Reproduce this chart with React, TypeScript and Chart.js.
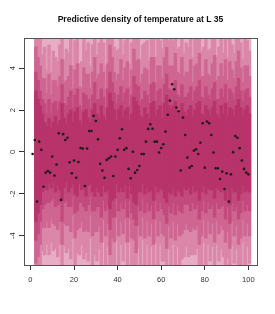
import React, { useEffect, useRef } from 'react';
import { Chart, registerables } from 'chart.js';

Chart.register(...registerables);

const TITLE = 'Predictive density of temperature at L 35';
const X_TICKS = [0, 20, 40, 60, 80, 100];
const Y_TICKS = [-4, -2, 0, 2, 4];
const X_MIN = -2.96;
const X_MAX = 103.96;
const Y_MIN = -5.4;
const Y_MAX = 5.44;

// density bands exist for time steps 2..100
const BAND_FIRST_T = 2;

// upper edges of the nested predictive bands (inner -> outer)
const UP0 = [
  2.9, 2.5, 2.2, 1.8, 1.4, 1.2, 1.6, 1.1, 1.4, 1.7,
  1.3, 1.5, 2.3, 1.6, 1.3, 1.8, 2.0, 1.4, 1.9, 2.1,
  1.5, 1.3, 1.9, 2.0, 1.6, 1.4, 2.0, 2.3, 1.8, 1.6,
  2.2, 1.7, 1.5, 2.1, 2.8, 2.4, 2.0, 1.5, 2.0, 2.2,
  1.6, 2.0, 2.1, 1.5, 1.8, 2.6, 2.4, 2.2, 1.7, 1.6,
  2.1, 1.8, 1.6, 2.3, 2.4, 1.7, 2.0, 2.2, 1.6, 2.3,
  2.7, 2.2, 2.0, 2.2, 2.4, 1.9, 1.8, 2.3, 1.9, 1.7,
  2.0, 2.2, 1.7, 2.0, 2.3, 2.4, 1.8, 1.7, 2.2, 2.0,
  1.7, 2.1, 2.4, 1.8, 1.6, 2.2, 1.8, 2.3, 1.7, 2.1,
  2.0, 1.7, 2.2, 2.5, 2.1, 1.7, 2.0, 2.2, 1.8,
];
const UP1 = [
  3.8, 3.4, 2.9, 2.5, 2.3, 1.8, 2.5, 1.8, 2.3, 2.4,
  2.0, 2.4, 3.2, 2.3, 2.2, 2.6, 2.9, 2.1, 2.7, 3.0,
  2.2, 2.0, 2.8, 2.7, 2.5, 2.1, 2.7, 3.3, 2.5, 2.5,
  3.0, 2.6, 2.1, 3.0, 3.8, 3.3, 2.8, 2.3, 2.7, 3.1,
  2.4, 2.8, 3.0, 2.2, 2.7, 3.6, 3.2, 3.1, 2.4, 2.5,
  2.9, 2.7, 2.3, 3.2, 3.3, 2.4, 2.9, 3.0, 2.4, 3.2,
  3.7, 3.0, 2.9, 3.0, 3.4, 2.7, 2.6, 3.2, 2.6, 2.6,
  2.8, 3.1, 2.4, 2.9, 3.1, 3.4, 2.6, 2.5, 3.1, 2.7,
  2.5, 3.0, 3.3, 2.5, 2.5, 3.0, 2.6, 3.2, 2.4, 3.0,
  2.8, 2.5, 3.1, 3.5, 2.9, 2.4, 2.9, 3.0, 2.6,
];
const UP2 = [
  5.0, 4.5, 4.1, 3.5, 3.5, 2.8, 3.7, 2.7, 3.4, 3.4,
  3.1, 3.6, 4.4, 3.3, 3.4, 3.6, 4.1, 3.0, 3.9, 4.2,
  3.1, 3.0, 4.0, 3.7, 3.7, 3.0, 3.8, 4.5, 3.5, 3.7,
  4.2, 3.8, 3.0, 4.2, 5.1, 4.5, 3.8, 3.4, 3.7, 4.4,
  3.4, 4.0, 4.3, 3.1, 3.9, 4.9, 4.3, 4.4, 3.3, 3.7,
  4.0, 3.9, 3.2, 4.5, 4.5, 3.3, 4.1, 4.1, 3.5, 4.5,
  5.0, 4.1, 4.1, 4.1, 4.7, 3.8, 3.7, 4.5, 3.6, 3.8,
  3.8, 4.4, 3.3, 4.1, 4.2, 4.7, 3.6, 3.6, 4.4, 3.7,
  3.6, 4.2, 4.6, 3.4, 3.6, 4.2, 3.6, 4.4, 3.4, 4.3,
  3.9, 3.5, 4.3, 4.8, 4.0, 3.3, 4.1, 4.1, 3.6,
];
const UP3 = [
  6.3, 5.9, 5.5, 4.6, 5.0, 3.9, 5.1, 3.8, 4.8, 4.5,
  4.3, 5.1, 5.8, 4.4, 4.9, 4.7, 5.5, 4.1, 5.3, 5.5,
  4.2, 4.3, 5.4, 4.8, 5.2, 4.1, 5.1, 5.8, 4.6, 5.2,
  5.5, 5.2, 4.1, 5.6, 6.5, 5.8, 5.0, 4.8, 4.9, 5.8,
  4.6, 5.3, 5.7, 4.2, 5.2, 6.3, 5.5, 5.8, 4.4, 5.1,
  5.2, 5.3, 4.3, 5.9, 5.8, 4.5, 5.5, 5.3, 4.9, 5.8,
  6.4, 5.3, 5.5, 5.3, 6.1, 4.9, 5.0, 5.9, 4.7, 5.2,
  5.0, 5.8, 4.5, 5.5, 5.4, 6.1, 4.8, 5.0, 5.8, 4.8,
  4.9, 5.5, 6.0, 4.5, 5.0, 5.5, 4.7, 5.8, 4.5, 5.6,
  5.1, 4.7, 5.6, 6.2, 5.2, 4.4, 5.4, 5.3, 4.8,
];

// lower edges of the nested predictive bands (inner -> outer)
const LO0 = [
  -3.3, -2.9, -2.5, -1.9, -1.6, -1.8, -1.5, -1.7, -1.4, -1.9,
  -1.6, -1.8, -2.3, -1.7, -1.4, -1.9, -1.7, -1.5, -2.0, -2.1,
  -1.5, -1.8, -1.7, -2.1, -1.6, -1.5, -1.9, -2.1, -1.7, -1.9,
  -2.1, -1.6, -1.9, -1.8, -2.7, -2.3, -2.2, -1.5, -1.9, -1.7,
  -1.9, -1.6, -2.2, -1.6, -2.0, -2.4, -2.5, -1.9, -1.9, -1.5,
  -2.0, -1.7, -1.9, -1.8, -2.3, -1.6, -1.9, -1.7, -1.8, -2.2,
  -2.4, -1.9, -2.0, -1.7, -2.1, -1.8, -1.9, -2.1, -1.7, -1.8,
  -1.7, -2.0, -1.6, -1.9, -1.8, -2.3, -1.9, -1.6, -2.0, -1.7,
  -1.8, -1.8, -2.2, -1.7, -1.8, -1.9, -1.7, -2.3, -1.8, -2.5,
  -1.7, -1.9, -1.9, -2.3, -2.0, -1.6, -1.9, -1.8, -1.9,
];
const LO1 = [
  -4.2, -3.9, -3.3, -2.7, -2.5, -2.4, -2.4, -2.3, -2.2, -2.6,
  -2.5, -2.4, -3.3, -2.4, -2.3, -2.6, -2.6, -2.1, -2.9, -2.8,
  -2.4, -2.4, -2.6, -2.8, -2.5, -2.1, -2.8, -2.8, -2.6, -2.6,
  -3.1, -2.3, -2.8, -2.5, -3.7, -3.1, -3.1, -2.2, -2.8, -2.4,
  -2.7, -2.3, -3.1, -2.3, -2.9, -3.2, -3.5, -2.6, -2.8, -2.2,
  -2.9, -2.4, -2.8, -2.5, -3.2, -2.3, -2.8, -2.4, -2.7, -3.0,
  -3.4, -2.6, -2.9, -2.4, -3.0, -2.5, -2.8, -2.9, -2.5, -2.5,
  -2.5, -2.8, -2.4, -2.7, -2.5, -3.2, -2.8, -2.3, -2.9, -2.4,
  -2.7, -2.5, -3.1, -2.4, -2.7, -2.6, -2.5, -3.2, -2.6, -3.4,
  -2.4, -2.8, -2.6, -3.2, -2.9, -2.3, -2.8, -2.5, -2.8,
];
const LO2 = [
  -5.3, -5.0, -4.4, -3.6, -3.6, -3.3, -3.6, -3.2, -3.4, -3.5,
  -3.7, -3.3, -4.4, -3.4, -3.5, -3.5, -3.8, -3.0, -4.1, -3.7,
  -3.6, -3.3, -3.8, -3.7, -3.8, -3.0, -4.0, -3.8, -3.8, -3.5,
  -4.3, -3.2, -4.0, -3.4, -4.9, -4.1, -4.3, -3.1, -4.0, -3.3,
  -3.9, -3.2, -4.3, -3.2, -4.1, -4.2, -4.8, -3.5, -4.0, -3.1,
  -4.1, -3.3, -4.0, -3.4, -4.4, -3.2, -4.0, -3.3, -3.9, -4.0,
  -4.6, -3.5, -4.1, -3.3, -4.2, -3.4, -4.0, -3.9, -3.7, -3.4,
  -3.7, -3.8, -3.6, -3.7, -3.5, -4.4, -4.0, -3.2, -4.1, -3.3,
  -3.9, -3.4, -4.3, -3.3, -3.9, -3.5, -3.7, -4.3, -3.8, -4.6,
  -3.3, -4.0, -3.5, -4.4, -4.1, -3.2, -4.0, -3.4, -4.0,
];
const LO3 = [
  -6.5, -6.3, -5.6, -4.7, -4.9, -4.4, -4.9, -4.3, -4.7, -4.6,
  -5.0, -4.4, -5.8, -4.5, -4.8, -4.6, -5.1, -4.1, -5.5, -4.8,
  -4.9, -4.4, -5.1, -4.8, -5.2, -4.1, -5.4, -4.9, -5.2, -4.6,
  -5.7, -4.3, -5.4, -4.5, -6.3, -5.3, -5.7, -4.2, -5.4, -4.4,
  -5.2, -4.3, -5.7, -4.3, -5.5, -5.4, -6.2, -4.6, -5.4, -4.2,
  -5.4, -4.4, -5.4, -4.5, -5.8, -4.3, -5.4, -4.4, -5.2, -5.2,
  -6.0, -4.6, -5.5, -4.4, -5.6, -4.5, -5.4, -5.1, -5.0, -4.5,
  -5.0, -4.9, -4.9, -4.9, -4.6, -5.8, -5.4, -4.3, -5.5, -4.4,
  -5.2, -4.5, -5.7, -4.4, -5.2, -4.6, -5.0, -5.6, -5.1, -6.0,
  -4.4, -5.3, -4.6, -5.8, -5.5, -4.3, -5.4, -4.5, -5.3,
];
// outermost band limits (extend beyond the plotted range)
const OUTER_LO = -8;
const OUTER_HI = 8;

// observed temperatures, t = 1..100
const OBS = [
  -0.1, 0.57, -2.37, 0.49, 0.1, -1.66, -0.99, -0.91, -0.99, -0.22,
  -1.13, -0.6, 0.89, -2.29, 0.85, 0.57, 0.68, -0.49, -1.02, -0.41,
  -1.23, -0.48, 0.19, 0.16, -1.63, 0.16, 1.0, 1.0, 1.72, 1.48,
  0.6, -0.57, -0.89, -1.23, -0.38, -0.3, -0.22, -1.15, -0.22, 0.1,
  0.65, 1.08, 0.1, 0.18, -0.81, -1.26, 0.01, -0.99, -0.86, -0.67,
  -0.1, -0.1, 0.49, 1.1, 1.32, 1.11, 0.49, 0.49, -0.03, 0.19,
  0.37, 0.97, 1.77, 2.45, 3.23, 2.99, 2.12, 1.94, -0.89, 1.64,
  0.81, -0.27, -0.75, -0.67, 0.06, 0.13, -0.1, 0.44, 1.37, -0.75,
  1.45, 1.37, 0.81, -0.03, -0.78, -0.78, -1.29, -0.94, -1.77, -1.02,
  -2.37, -1.07, -0.01, 0.76, 0.68, 0.18, -0.41, -0.81, -0.99, -1.07,
];

const BAND_COLORS = ['#b7336a', '#c24a7d', '#ce6691', '#da87a9', '#e7adc5'];
const FONT = "'Liberation Sans', Arial, Helvetica, sans-serif";

export default function App() {
  const ref = useRef<HTMLCanvasElement>(null);

  useEffect(() => {
    const canvas = ref.current;
    if (!canvas) return;

    const bandPairs: [number[], number[]][] = [
      [LO0, UP0],
      [LO1, UP1],
      [LO2, UP2],
      [LO3, UP3],
    ];

    const barCommon = {
      type: 'bar',
      borderWidth: 0,
      barPercentage: 1,
      categoryPercentage: 1,
      grouped: false,
      inflateAmount: 0.6,
      clip: 0,
    };

    const bandDatasets: any[] = bandPairs.map(([lo, up], k) => ({
      ...barCommon,
      data: up.map((u, i) => ({ x: BAND_FIRST_T + i + 0.5, y: [lo[i], u] })),
      backgroundColor: BAND_COLORS[k],
    }));
    bandDatasets.push({
      ...barCommon,
      data: UP0.map((_, i) => ({ x: BAND_FIRST_T + i + 0.5, y: [OUTER_LO, OUTER_HI] })),
      backgroundColor: BAND_COLORS[4],
    });

    const pointsDataset: any = {
      type: 'line',
      data: OBS.map((y, i) => ({ x: i + 1, y })),
      showLine: false,
      pointRadius: 1.3,
      pointHoverRadius: 1.3,
      pointBackgroundColor: '#1b1b1b',
      pointBorderWidth: 0,
      borderWidth: 0,
      clip: 0,
    };

    const boxPlugin = {
      id: 'box',
      afterDraw(chart: any) {
        const { ctx, chartArea: a } = chart;
        ctx.save();
        ctx.strokeStyle = '#555';
        ctx.lineWidth = 1;
        ctx.strokeRect(
          Math.round(a.left) + 0.5,
          Math.round(a.top) + 0.5,
          Math.round(a.right) - Math.round(a.left),
          Math.round(a.bottom) - Math.round(a.top)
        );
        ctx.restore();
      },
    };

    const chart = new Chart(canvas, {
      type: 'bar',
      data: { datasets: [pointsDataset, ...bandDatasets] },
      options: {
        responsive: false,
        animation: false,
        devicePixelRatio: 1,
        layout: { padding: { left: 0, right: 18, top: 0, bottom: 0 } },
        plugins: {
          legend: { display: false },
          tooltip: { enabled: false },
          title: {
            display: true,
            text: TITLE,
            fullSize: false,
            color: '#111',
            font: { family: FONT, size: 8.6, weight: 'bold' },
            padding: { top: 14.5, bottom: 13.2 },
          },
        },
        scales: {
          x: {
            type: 'linear',
            min: X_MIN,
            max: X_MAX,
            offset: false,
            grid: {
              offset: false,
              drawOnChartArea: false,
              drawTicks: true,
              tickLength: 5,
              tickColor: '#333',
            },
            border: { display: true, color: '#555' },
            ticks: {
              includeBounds: false,
              autoSkip: false,
              maxRotation: 0,
              color: '#333',
              padding: 5,
              font: { family: FONT, size: 7.5 },
            },
            afterBuildTicks: (s: any) => {
              s.ticks = X_TICKS.map((v) => ({ value: v }));
            },
            afterFit: (s: any) => {
              s.height = 49;
            },
          },
          y: {
            type: 'linear',
            min: Y_MIN,
            max: Y_MAX,
            beginAtZero: false,
            grid: {
              drawOnChartArea: false,
              drawTicks: true,
              tickLength: 5,
              tickColor: '#333',
            },
            border: { display: true, color: '#555' },
            ticks: {
              includeBounds: false,
              autoSkip: false,
              minRotation: 90,
              maxRotation: 90,
              crossAlign: 'center',
              color: '#333',
              padding: 2.8,
              font: { family: FONT, size: 7.5 },
            },
            afterBuildTicks: (s: any) => {
              s.ticks = Y_TICKS.map((v) => ({ value: v }));
            },
            afterFit: (s: any) => {
              s.width = 24;
            },
          },
        },
      } as any,
      plugins: [boxPlugin],
    });

    return () => chart.destroy();
  }, []);

  return (
    <div style={{ position: 'absolute', left: 0, top: 0, width: 275, height: 314, background: '#fff' }}>
      <canvas ref={ref} width={275} height={314} style={{ display: 'block' }} />
    </div>
  );
}
